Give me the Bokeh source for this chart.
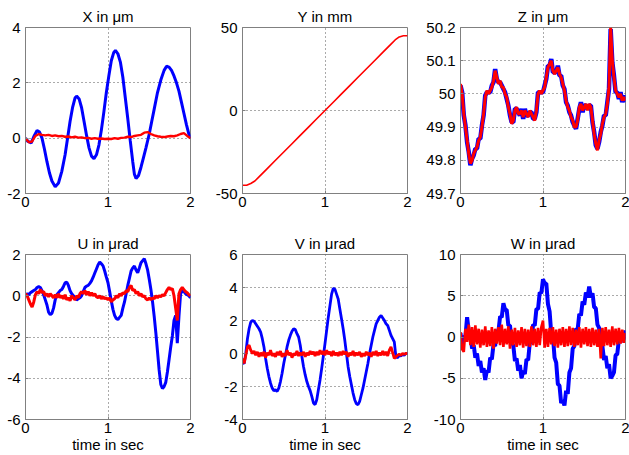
import numpy as np
from bokeh.plotting import figure
from bokeh.models import Range1d, FixedTicker
from bokeh.layouts import column, row
from bokeh.embed import file_html
from bokeh.resources import INLINE

FONT = "Liberation Sans"
BLUE = "#0000ff"
RED = "#ff0000"

# ---------------- data ----------------
time_ticks = [0, 1, 2]
time_labels = ["0", "1", "2"]

# uniform sampling grids (sample times in seconds)
t02 = np.round(np.linspace(0, 2, 101), 2)   # 0.02 s
t04 = np.round(np.linspace(0, 2, 51), 2)    # 0.04 s

# X in um
x_blue_t = [0.00, 0.03, 0.07, 0.10, 0.14, 0.17, 0.20, 0.23, 0.26, 0.29,
            0.32, 0.36, 0.40, 0.44, 0.48, 0.51, 0.54, 0.57, 0.60, 0.62,
            0.65, 0.68, 0.71, 0.74, 0.77, 0.80, 0.83, 0.86, 0.89, 0.92,
            0.95, 0.98, 1.01, 1.04, 1.07, 1.09, 1.12, 1.15, 1.18, 1.21,
            1.24, 1.27, 1.30, 1.32, 1.34, 1.37, 1.40, 1.43, 1.46, 1.50,
            1.53, 1.56, 1.60, 1.64, 1.68, 1.71, 1.74, 1.77, 1.80, 1.83,
            1.86, 1.89, 1.92, 1.95, 1.98, 2.00]
x_blue = [0.0, -0.12, -0.17, 0.05, 0.28, 0.22, 0.0, -0.4, -0.85, -1.25,
          -1.55, -1.76, -1.62, -1.2, -0.6, 0.0, 0.6, 1.1, 1.45, 1.52,
          1.42, 1.1, 0.6, 0.1, -0.35, -0.65, -0.74, -0.6, -0.25, 0.3,
          0.95, 1.65, 2.25, 2.8, 3.1, 3.17, 3.05, 2.75, 2.2, 1.45,
          0.7, -0.1, -0.85, -1.3, -1.46, -1.35, -1.05, -0.7, -0.35, 0.15,
          0.6, 1.05, 1.65, 2.1, 2.45, 2.6, 2.57, 2.45, 2.25, 2.0,
          1.7, 1.3, 0.9, 0.5, 0.15, 0.0]
x_red = [0.0, -0.15, -0.12, 0.08, 0.15, 0.12, 0.1, 0.12, 0.08, 0.1,
         0.07, 0.08, 0.05, 0.06, 0.03, 0.05, 0.02, 0.03, 0.0, 0.01,
         -0.02, 0.0, -0.02, -0.01, -0.03, -0.02, -0.03, 0.0, -0.02, 0.01,
         0.02, 0.05, 0.04, 0.08, 0.1, 0.12, 0.2, 0.22, 0.15, 0.1,
         0.07, 0.05, 0.04, 0.06, 0.08, 0.07, 0.1, 0.15, 0.18, 0.08,
         0.0]

# Y in mm
y_t = [0.0, 0.05, 0.1, 0.15, 0.2, 0.3, 0.4, 0.5, 0.6, 0.7, 0.8, 0.9, 1.0,
       1.1, 1.2, 1.3, 1.4, 1.5, 1.6, 1.7, 1.8, 1.85, 1.9, 1.95, 2.0]
y_red = [-45, -45, -44, -42.5, -40, -35, -30, -25, -20, -15, -10, -5, 0,
         5, 10, 15, 20, 25, 30, 35, 40, 42.5, 44.3, 45, 45]

# Z in um
z_red = [50.03, 50.00, 49.94, 49.90, 49.86, 49.82, 49.79, 49.80, 49.82, 49.83,
         49.84, 49.86, 49.87, 49.90, 49.94, 49.99, 50.01, 50.00, 50.01, 50.02,
         50.04, 50.07, 50.05, 50.03, 50.04, 50.02, 50.02, 50.00, 49.99, 49.96,
         49.94, 49.91, 49.92, 49.95, 49.96, 49.94, 49.94, 49.95, 49.93, 49.95,
         49.94, 49.93, 49.95, 49.94, 49.93, 49.92, 49.95, 50.00, 50.01, 50.00,
         50.01, 50.02, 50.05, 50.08, 50.09, 50.10, 50.07, 50.06, 50.07, 50.08,
         50.06, 50.05, 50.03, 50.01, 49.98, 49.96, 49.95, 49.93, 49.92, 49.90,
         49.90, 49.92, 49.96, 49.97, 49.95, 49.96, 49.97, 49.95, 49.97, 49.96,
         49.92, 49.88, 49.85, 49.83, 49.86, 49.88, 49.91, 49.93, 49.94, 49.97,
         50.02, 50.20, 50.10, 50.05, 50.01, 50.00, 49.99, 50.00, 49.98, 49.99,
         49.98]
z_blue = [50.025, 50.005, 49.935, 49.905, 49.855, 49.825, 49.785, 49.805, 49.815, 49.835,
          49.835, 49.865, 49.865, 49.905, 49.935, 49.995, 50.005, 50.005, 50.005, 50.025,
          50.035, 50.075, 50.045, 50.035, 50.035, 50.025, 50.015, 50.005, 49.985, 49.965,
          49.935, 49.915, 49.915, 49.955, 49.955, 49.945, 49.935, 49.955, 49.925, 49.955,
          49.935, 49.935, 49.945, 49.945, 49.925, 49.925, 49.945, 50.005, 50.005, 50.005,
          50.005, 50.025, 50.045, 50.085, 50.085, 50.105, 50.065, 50.065, 50.065, 50.085,
          50.055, 50.055, 50.025, 50.015, 49.975, 49.965, 49.945, 49.935, 49.915, 49.905,
          49.895, 49.925, 49.955, 49.975, 49.945, 49.965, 49.965, 49.955, 49.965, 49.965,
          49.915, 49.885, 49.845, 49.835, 49.855, 49.885, 49.905, 49.935, 49.935, 49.975,
          50.015, 50.195, 50.095, 50.055, 50.005, 50.005, 49.985, 50.005, 49.975, 49.995,
          49.975]

# U in urad
u_blue = [0.0, 0.1, 0.05, 0.15, 0.2, 0.25, 0.3, 0.4, 0.44, 0.4,
          0.25, 0.05, -0.2, -0.45, -0.8, -0.92, -0.85, -0.6, -0.2, 0.05,
          0.15, 0.25, 0.3, 0.45, 0.62, 0.66, 0.5, 0.25, 0.1, 0.0,
          -0.1, -0.2, -0.15, -0.1, 0.0, 0.2, 0.4, 0.47, 0.5, 0.6,
          0.72, 0.9, 1.1, 1.3, 1.5, 1.63, 1.55, 1.45, 1.2, 0.9,
          0.63, 0.2, -0.25, -0.66, -0.95, -1.1, -1.15, -1.05, -0.95, -0.6,
          -0.3, 0.1, 0.5, 0.85, 1.2, 1.35, 1.44, 1.25, 1.11, 1.35,
          1.6, 1.7, 1.8, 1.55, 1.25, 0.8, 0.3, -0.3, -1.0, -1.8,
          -2.7, -3.6, -4.3, -4.5, -4.4, -4.2, -3.7, -3.1, -2.5, -1.95,
          -1.2, -0.95, -2.3, -1.0, 0.1, 0.25, 0.2, 0.1, 0.05, 0.0,
          -0.1]
u_red = [0.1, 0.0, -0.2, -0.4, -0.55, -0.3, 0.05, 0.2, 0.1, 0.3,
         0.15, 0.2, 0.0, 0.1, -0.05, 0.1, 0.0, -0.1, 0.05, -0.1,
         0.1, -0.1, 0.0, -0.15, 0.05, -0.2, -0.1, -0.25, 0.0, -0.1,
         -0.2, 0.0, -0.1, 0.1, 0.2, 0.1, 0.25, 0.05, 0.2, 0.0,
         0.15, 0.0, 0.1, -0.05, -0.1, 0.0, -0.15, -0.05, -0.15, -0.1,
         -0.2, -0.1, -0.3, -0.2, -0.15, 0.0, -0.1, 0.1, 0.0, 0.15,
         0.1, 0.25, 0.2, 0.4, 0.5, 0.25, 0.3, 0.1, 0.2, 0.0,
         0.1, -0.05, 0.0, -0.15, -0.2, -0.1, -0.2, -0.1, -0.15, 0.0,
         -0.1, 0.0, -0.05, 0.05, 0.0, 0.15, 0.3, 0.4, 0.3, 0.35,
         0.0, -0.6, -1.2, 0.1, 0.3, 0.4, 0.3, 0.2, 0.15, 0.05,
         0.0]

# V in urad
v_blue = [-0.55, -0.6, 0.0, 0.9, 1.5, 1.9, 2.0, 1.95, 1.8, 1.65,
          1.5, 1.3, 0.9, 0.4, -0.3, -0.9, -1.4, -1.8, -2.1, -2.25,
          -2.2, -2.3, -2.1, -1.7, -1.2, -0.6, -0.1, 0.4, 0.8, 1.1,
          1.35, 1.5, 1.45, 1.2, 1.0, 0.5, -0.2, -0.8, -1.3, -1.7,
          -2.0, -2.25, -2.6, -3.0, -3.1, -2.8, -2.2, -1.6, -0.9, -0.15,
          0.6, 1.4, 2.2, 2.9, 3.6, 3.95, 3.9, 3.6, 3.3, 2.7,
          2.1, 1.5, 0.8, 0.0, -0.8, -1.4, -1.9, -2.4, -2.8, -3.05,
          -3.1, -2.9, -2.5, -2.1, -1.6, -1.1, -0.6, 0.0, 0.5, 1.0,
          1.4, 1.8, 2.0, 2.2, 2.3, 2.15, 2.0, 1.8, 1.7, 1.4,
          1.1, 0.9, 0.7, -0.2, -0.25, -0.1, -0.15, -0.05, -0.1, 0.0,
          0.0]
v_red = [-0.3, -0.6, -0.1, 0.4, 0.5, 0.2, 0.0, 0.15, -0.1, 0.1,
         -0.2, 0.05, -0.15, 0.1, -0.25, 0.05, -0.1, 0.2, -0.15, 0.0,
         -0.2, 0.1, -0.1, 0.15, -0.2, 0.0, -0.15, 0.2, -0.1, 0.05,
         -0.25, 0.0, -0.1, 0.15, -0.15, 0.05, -0.1, 0.1, -0.2, 0.05,
         -0.1, 0.15, -0.05, 0.1, -0.15, 0.1, -0.1, 0.2, -0.05, 0.15,
         -0.1, 0.2, -0.05, 0.1, -0.15, 0.15, -0.1, 0.05, -0.15, 0.1,
         -0.1, 0.15, -0.05, 0.1, -0.2, 0.05, -0.1, 0.15, -0.15, 0.05,
         -0.1, 0.1, -0.2, 0.0, -0.15, 0.1, -0.1, 0.05, -0.2, 0.1,
         -0.1, 0.15, -0.15, 0.05, -0.1, 0.15, -0.1, 0.1, -0.15, 0.2,
         0.4, 0.05, -0.3, -0.2, -0.1, -0.05, -0.1, 0.0, -0.05, 0.0,
         0.0]

# W in urad
w_blue = [0.5, -1.2, 0.0, 0.1, 2.4, 0.7, 0.5, -1.4, -1.0, -2.5,
          -2.0, -3.5, -2.9, -4.3, -3.8, -5.2, -4.0, -4.3, -2.5, -2.7,
          -0.9, -1.1, 0.8, 0.7, 2.5, 2.4, 4.1, 3.3, 3.3, 1.4,
          1.4, -0.7, -1.0, -2.9, -2.6, -4.1, -3.4, -5.0, -4.1, -4.5,
          -2.7, -2.8, -0.7, -0.6, 1.5, 1.4, 3.4, 3.4, 5.4, 5.3,
          7.0, 6.5, 6.5, 4.0, 3.1, 0.4, 0.2, -2.5, -3.1, -5.7,
          -5.9, -8.0, -7.7, -8.3, -6.5, -6.9, -4.3, -3.8, -1.4, -1.1,
          1.0, 0.9, 2.8, 2.6, 4.3, 3.9, 5.4, 4.8, 6.1, 4.8,
          5.3, 3.6, 3.5, 1.5, 1.1, -1.1, -1.1, -2.8, -2.3, -3.8,
          -3.3, -5.0, -4.7, -4.3, -2.2, -2.1, -0.3, -0.7, 0.5, -0.3,
          0.8]
w_red = [0.6, -1.5, -1.8, 1.0, -0.6, 1.5, -1.0, 1.2, -1.2, 1.4,
         -0.9, 1.0, -1.3, 0.9, -1.0, 1.3, -1.2, 0.8, -1.1, 1.2,
         -1.4, 1.0, -0.8, 1.2, -1.0, 1.5, -1.2, 1.0, -0.9, 1.3,
         -1.4, 0.9, -1.0, 1.1, -1.2, 0.8, -1.0, 1.2, -1.3, 1.0,
         -1.1, 0.9, -1.2, 1.3, -1.0, 1.0, -1.2, 1.1, -1.0, 1.2,
         2.0, -1.3, 1.0, -1.2, 1.1, -0.9, 1.2, -1.1, 0.9, -1.3,
         1.0, -1.0, 1.2, -1.2, 1.0, -1.1, 1.3, -1.0, 1.1, -1.2,
         0.9, -1.0, 1.2, -1.3, 1.0, -0.9, 1.2, -1.1, 1.0, -1.2,
         1.1, -1.0, 0.9, -1.2, 1.0, -2.6, 1.1, -1.1, 1.2, -1.0,
         0.9, -1.2, 1.3, -1.0, 1.0, -0.9, 1.1, -0.8, 0.9, -0.7,
         0.5]

# axis ticks
x_ticks_y = [-2, 0, 2, 4]
y_ticks_y = [-50, 0, 50]
z_ticks_y = [49.7, 49.8, 49.9, 50.0, 50.1, 50.2]
z_labels_y = ["49.7", "49.8", "49.9", "50", "50.1", "50.2"]
u_ticks_y = [-6, -4, -2, 0, 2]
v_ticks_y = [-4, -2, 0, 2, 4, 6]
w_ticks_y = [-10, -5, 0, 5, 10]


def panel(title, yr, yticks, ylabels, w, h, bl, br, bt, bb, xlabel=None):
    p = figure(width=w, height=h, x_range=Range1d(0, 2), y_range=Range1d(*yr),
               output_backend="svg", toolbar_location=None,
               min_border_left=bl, min_border_right=br,
               min_border_top=bt, min_border_bottom=bb)
    p.title.text = title
    p.title.align = "center"
    p.title.text_font = FONT
    p.title.text_font_size = "15px"
    p.title.text_font_style = "normal"
    p.title.text_color = "black"
    p.title.standoff = 5
    p.xaxis.ticker = FixedTicker(ticks=time_ticks)
    p.xaxis.major_label_overrides = dict(zip(time_ticks, time_labels))
    p.yaxis.ticker = FixedTicker(ticks=yticks)
    p.yaxis.major_label_overrides = dict(zip(yticks, ylabels))
    for ax in (p.xaxis[0], p.yaxis[0]):
        ax.major_label_text_font = FONT
        ax.major_label_text_font_size = "15px"
        ax.major_label_text_color = "black"
        ax.major_tick_in = 3
        ax.major_tick_out = 0
        ax.minor_tick_line_color = None
        ax.axis_line_color = "#808080"
        ax.major_tick_line_color = "#808080"
    p.xaxis.major_label_standoff = 3
    p.yaxis.major_label_standoff = 5
    if xlabel:
        p.xaxis.axis_label = xlabel
        p.xaxis.axis_label_text_font = FONT
        p.xaxis.axis_label_text_font_size = "15px"
        p.xaxis.axis_label_text_font_style = "normal"
        p.xaxis.axis_label_text_color = "black"
        p.xaxis.axis_label_standoff = 0
    p.grid.grid_line_color = "#555555"
    p.grid.grid_line_dash = "1 3"
    p.grid.grid_line_width = 1
    p.outline_line_color = "#808080"
    p.outline_line_width = 1
    p.background_fill_color = "white"
    p.border_fill_color = "white"
    return p


def lbl(ticks):
    return [str(t) for t in ticks]


H1, H2 = 214, 241
p1 = panel("X in \u03bcm", (-2, 4), x_ticks_y, lbl(x_ticks_y), 200, H1, 25, 10, 27, 21)
p1.line(x_blue_t, x_blue, line_color=BLUE, line_width=3)
p1.line(t04, x_red, line_color=RED, line_width=2.4)

p2 = panel("Y in mm", (-50, 50), y_ticks_y, lbl(y_ticks_y), 215, H1, 42, 8, 27, 21)
p2.line(y_t, y_red, line_color=RED, line_width=1.6)

p3 = panel("Z in \u03bcm", (49.7, 50.2), z_ticks_y, z_labels_y, 214, H1, 45, 4, 27, 21)
p3.line(t02, z_blue, line_color=BLUE, line_width=4.5)
p3.line(t02, z_red, line_color=RED, line_width=3)

p4 = panel("U in \u03bcrad", (-6, 2), u_ticks_y, lbl(u_ticks_y), 200, H2, 25, 10, 40, 34, "time in sec")
p4.line(t02, u_blue, line_color=BLUE, line_width=3)
p4.line(t02, u_red, line_color=RED, line_width=3)

p5 = panel("V in \u03bcrad", (-4, 6), v_ticks_y, lbl(v_ticks_y), 215, H2, 42, 8, 40, 34, "time in sec")
p5.line(t02, v_blue, line_color=BLUE, line_width=2.8)
p5.line(t02, v_red, line_color=RED, line_width=2.8)

p6 = panel("W in \u03bcrad", (-10, 10), w_ticks_y, lbl(w_ticks_y), 214, H2, 45, 4, 40, 34, "time in sec")
p6.line(t02, w_blue, line_color=BLUE, line_width=4)
p6.line(t02, w_red, line_color=RED, line_width=2.6)

layout = column(row(p1, p2, p3), row(p4, p5, p6))
open("out.html", "w").write(file_html(layout, INLINE))
